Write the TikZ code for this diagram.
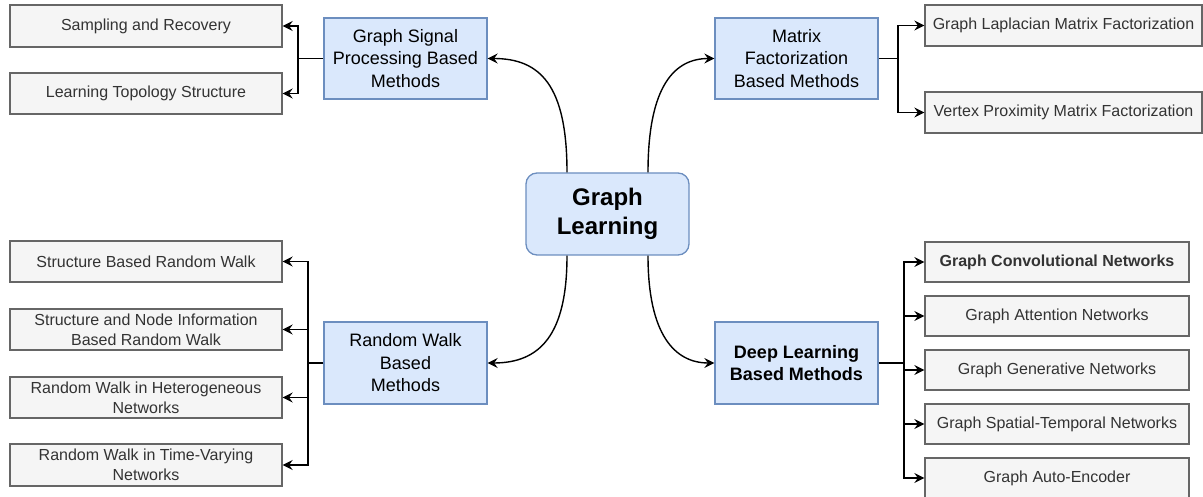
\documentclass[tikz,border=0pt]{standalone}
\usepackage{fontspec}
\setmainfont{Liberation Sans}
\usetikzlibrary{arrows.meta}
\definecolor{bluefill}{HTML}{DAE8FC}
\definecolor{blueline}{HTML}{6C8EBF}
\definecolor{greyfill}{HTML}{F5F5F5}
\definecolor{greyline}{HTML}{666666}
\definecolor{greytext}{HTML}{333333}
\tikzset{
  hub/.style={draw=blueline, fill=bluefill, line width=1.3pt, rounded corners=11pt,
    minimum width=163pt, minimum height=82pt, align=center,
    font=\fontsize{24}{29}\selectfont\bfseries},
  method/.style={draw=blueline, fill=bluefill, line width=1.3pt,
    minimum width=163pt, minimum height=81pt, align=center,
    font=\fontsize{18}{22.5}\selectfont},
  leaf/.style={draw=greyline, fill=greyfill, line width=1.3pt, text=greytext,
    minimum height=41pt, align=center, inner sep=2pt,
    font=\fontsize{16}{20}\selectfont},
  lleaf/.style={leaf, minimum width=272pt},
  mleaf/.style={leaf, minimum width=277pt},
  dleaf/.style={leaf, minimum width=264pt, minimum height=40pt},
  arr/.style={draw, line width=1.4pt, -{Stealth[length=10pt,width=10pt,inset=3.5pt]}},
  branch/.style={draw, line width=1.4pt, -{Stealth[length=10pt,width=10pt,inset=3.5pt]}, rounded corners=0pt},
}
\begin{document}
\begin{tikzpicture}[x=1pt,y=-1pt]
\useasboundingbox (0,0) rectangle (1203,497);
\clip (0,0) rectangle (1203,497);

% centre and the four method families
\node[hub] (gl) at (607.5,214) {Graph\\Learning};
\node[method] (gsp) at (405.5,58.5) {Graph Signal\\Processing Based\\Methods};
\node[method] (mf) at (796.5,58.5) {Matrix\\Factorization\\Based Methods};
\node[method, minimum height=82pt] (rw) at (405.5,363) {Random Walk\\Based\\Methods};
\node[method, minimum height=82pt, font=\fontsize{18}{22.5}\selectfont\bfseries] (dl) at (796.5,363) {Deep Learning\\Based Methods};

% graph signal processing leaves
\node[lleaf, minimum height=42pt] (sr) at (146,26) {Sampling and Recovery};
\node[lleaf] (lt) at (146,93.5) {Learning Topology Structure};

% matrix factorization leaves
\node[mleaf] (glmf) at (1063.5,25.5) {Graph Laplacian Matrix Factorization};
\node[mleaf] (vpmf) at (1063.5,112.5) {Vertex Proximity Matrix Factorization};

% random walk leaves
\node[lleaf] (rw1) at (146,261.5) {Structure Based Random Walk};
\node[lleaf] (rw2) at (146,329.5) {Structure and Node Information\\Based Random Walk};
\node[lleaf] (rw3) at (146,397.5) {Random Walk in Heterogeneous\\Networks};
\node[lleaf, minimum height=42pt] (rw4) at (146,465) {Random Walk in Time-Varying\\Networks};

% deep learning leaves
\node[dleaf, font=\fontsize{16}{20}\selectfont\bfseries] (gcn) at (1057,262) {Graph Convolutional Networks};
\node[dleaf] (gan) at (1057,316) {Graph Attention Networks};
\node[dleaf] (ggn) at (1057,370) {Graph Generative Networks};
\node[dleaf] (gst) at (1057,424) {Graph Spatial-Temporal Networks};
\node[dleaf] (gae) at (1057,478) {Graph Auto-Encoder};

% curved links from the centre
\draw[arr] ([xshift=-40.5pt]gl.north) .. controls ([xshift=-40.5pt]gl.north |- 0,85) and (540,58.5) .. (gsp.east);
\draw[arr] ([xshift=40.5pt]gl.north) .. controls ([xshift=40.5pt]gl.north |- 0,85) and (675,58.5) .. (mf.west);
\draw[arr] ([xshift=-40.5pt]gl.south) .. controls ([xshift=-40.5pt]gl.south |- 0,335) and (540,363) .. (rw.east);
\draw[arr] ([xshift=40.5pt]gl.south) .. controls ([xshift=40.5pt]gl.south |- 0,335) and (675,363) .. (dl.west);

% junctions of the elbow branches
\coordinate (jgsp) at (298,58.5);
\coordinate (jmf) at (898,58.5);
\coordinate (jrw) at (308,363);
\coordinate (jdl) at (904,363);

\draw[line width=1.4pt] (gsp.west) -- (jgsp);
\draw[branch] (jgsp) |- (sr.east);
\draw[branch] (jgsp) |- (lt.east);

\draw[line width=1.4pt] (mf.east) -- (jmf);
\draw[branch] (jmf) |- (glmf.west);
\draw[branch] (jmf) |- (vpmf.west);

\draw[line width=1.4pt] (rw.west) -- (jrw);
\draw[branch] (jrw) |- (rw1.east);
\draw[branch] (jrw) |- (rw2.east);
\draw[branch] (jrw) |- (rw3.east);
\draw[branch] (jrw) |- (rw4.east);

\draw[line width=1.4pt] (dl.east) -- (jdl);
\draw[branch] (jdl) |- (gcn.west);
\draw[branch] (jdl) |- (gan.west);
\draw[branch] (jdl) |- (ggn.west);
\draw[branch] (jdl) |- (gst.west);
\draw[branch] (jdl) |- (gae.west);
\end{tikzpicture}
\end{document}
